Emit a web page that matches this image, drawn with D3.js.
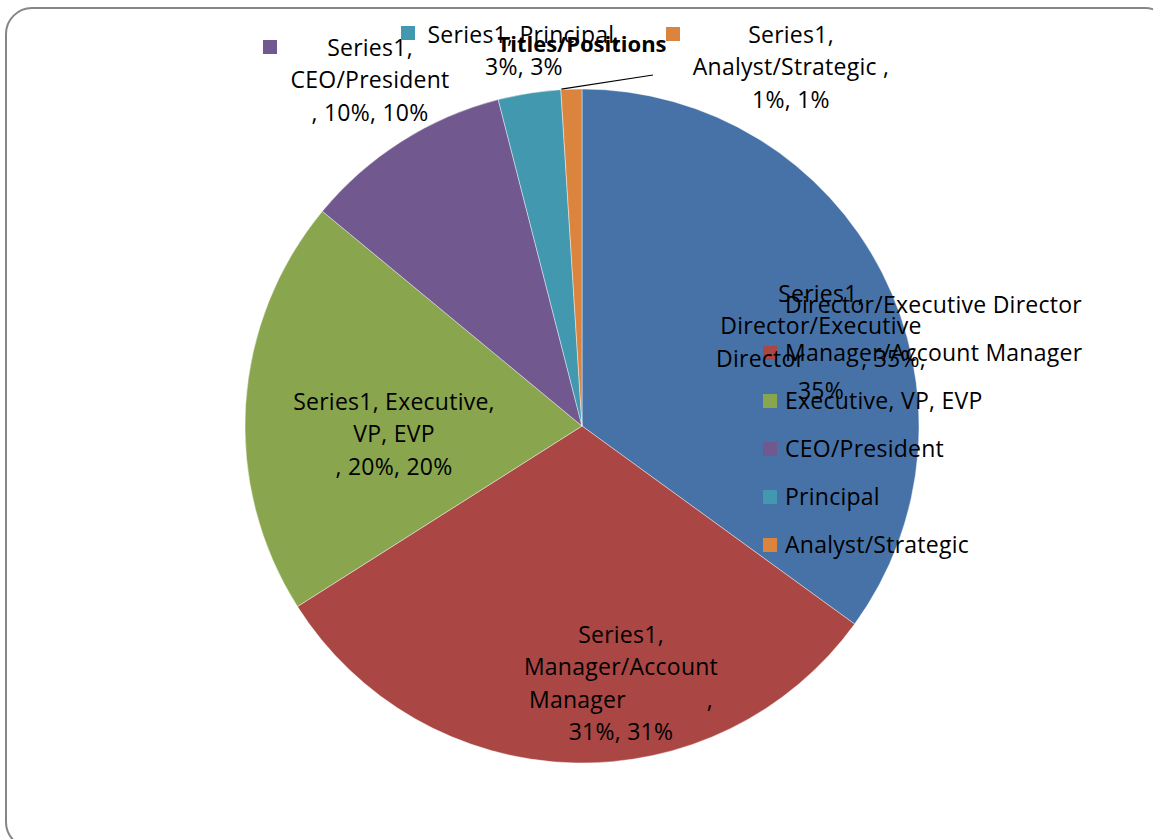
<!DOCTYPE html>
<html>
<head>
<meta charset="utf-8">
<script src="https://cdn.jsdelivr.net/npm/d3@7"></script>
<style>
  html, body { margin: 0; padding: 0; background: #fff; overflow: hidden; }
  svg { display: block; font-family: "Open Sans", Lato, sans-serif; }
</style>
</head>
<body>
<svg id="chart" width="1153" height="839"></svg>
<script>
// data
const categories = ['Director/Executive Director', 'Manager/Account Manager', 'Executive, VP, EVP',
  'CEO/President', 'Principal', 'Analyst/Strategic'];
const values = [35, 31, 20, 10, 3, 1];
const colors = ['#4672A8', '#AA4643', '#89A54E', '#71588F', '#4198AF', '#DB843D'];
const chartTitle = 'Titles/Positions';

// data label text, broken the way the original wraps them
const labelLines = [
  ['Series1,', 'Director/Executive', 'Director         , 35%,', '35%'],
  ['Series1,', 'Manager/Account', 'Manager             ,', '31%, 31%'],
  ['Series1, Executive,', 'VP, EVP', ', 20%, 20%'],
  ['Series1,', 'CEO/President', ', 10%, 10%'],
  ['Series1, Principal,', '3%, 3%'],
  ['Series1,', 'Analyst/Strategic ,', '1%, 1%']
];
// label centre x / first baseline y, and legend-key position
const labelPos = [
  { x: 821, y: 302, key: null },
  { x: 621, y: 643, key: null },
  { x: 394, y: 410, key: null },
  { x: 370, y: 56, key: [263, 40] },
  { x: 524, y: 43, key: [401, 26] },
  { x: 791, y: 43, key: [666, 27] }
];
const lineGap = 32.3;
const fontSize = 23, spacing = 0.25;

const svg = d3.select('#chart');
const cx = 582, cy = 426, r = 337;

// frame
svg.append('rect')
  .attr('x', 6).attr('y', 8)
  .attr('width', 1165).attr('height', 840)
  .attr('rx', 26).attr('ry', 26)
  .attr('fill', '#fff')
  .attr('stroke', '#868686')
  .attr('stroke-width', 2);

const color = d3.scaleOrdinal().domain(categories).range(colors);

const pie = d3.pie().sort(null).value(d => d.value);
const arcs = pie(categories.map((c, i) => ({ cat: c, value: values[i] })));
const arc = d3.arc().innerRadius(0).outerRadius(r);

const g = svg.append('g').attr('transform', `translate(${cx},${cy})`);
g.selectAll('path')
  .data(arcs)
  .join('path')
  .attr('d', arc)
  .attr('fill', d => color(d.data.cat))
  .attr('stroke', '#ffffff')
  .attr('stroke-width', 0.6)
  .attr('stroke-opacity', 0.7);

// leader line for the tiny slice
const a5 = arcs[5];
const mid = (a5.startAngle + a5.endAngle) / 2;
svg.append('line')
  .attr('x1', cx + Math.sin(mid) * r - 10).attr('y1', cy - Math.cos(mid) * r)
  .attr('x2', 653).attr('y2', 75)
  .attr('stroke', '#000').attr('stroke-width', 1.2);

// legend on the right
const legend = svg.append('g').attr('transform', 'translate(763,298)');
const row = legend.selectAll('g')
  .data(categories)
  .join('g')
  .attr('transform', (d, i) => `translate(0,${i * 48})`);
row.append('rect')
  .attr('width', 14).attr('height', 14)
  .attr('fill', d => color(d));
row.append('text')
  .attr('x', 22).attr('y', 15)
  .attr('font-size', fontSize)
  .attr('letter-spacing', spacing)
  .attr('fill', '#000')
  .text(d => d);

// data labels
labelLines.forEach((lines, i) => {
  const p = labelPos[i];
  if (p.key) {
    svg.append('rect')
      .attr('x', p.key[0]).attr('y', p.key[1])
      .attr('width', 14).attr('height', 14)
      .attr('fill', colors[i]);
  }
  const t = svg.append('text')
    .attr('font-size', fontSize)
    .attr('letter-spacing', spacing)
    .attr('fill', '#000')
    .attr('text-anchor', 'middle');
  lines.forEach((ln, j) => {
    t.append('tspan')
      .attr('x', p.x)
      .attr('y', p.y + j * lineGap)
      .style('white-space', 'pre')
      .text(ln);
  });
});

// title (drawn last, on top like the original)
svg.append('text')
  .attr('x', 582).attr('y', 52)
  .attr('text-anchor', 'middle')
  .attr('font-size', 22)
  .attr('font-weight', 'bold')
  .attr('fill', '#000')
  .text(chartTitle);
</script>
</body>
</html>
